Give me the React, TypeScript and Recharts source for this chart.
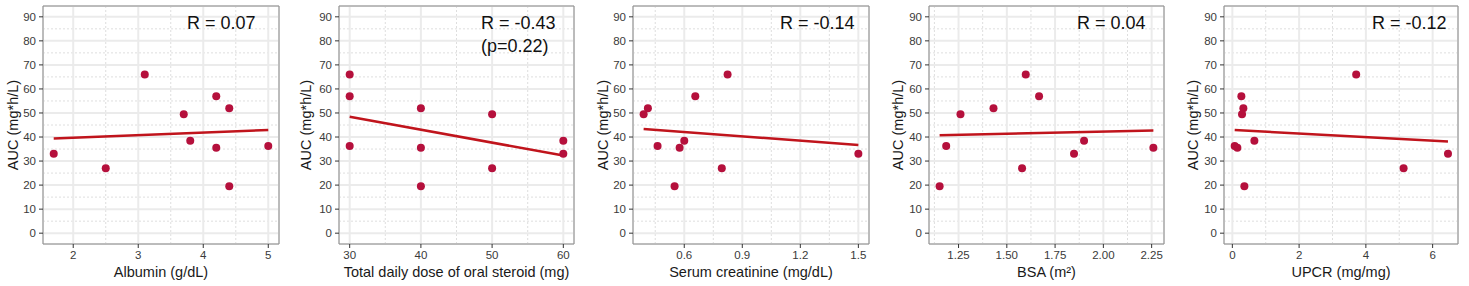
import {
  ScatterChart,
  Scatter,
  XAxis,
  YAxis,
  CartesianGrid,
  ReferenceArea
} from "recharts";

// AUC (mg*h/L) of the 10 patients, same order in every panel
const auc = [66, 57, 52, 49.5, 38.5, 36.3, 35.5, 33, 27, 19.5];

const albumin = [3.1, 4.2, 4.4, 3.7, 3.8, 5.0, 4.2, 1.7, 2.5, 4.4];
const steroidDose = [30, 30, 40, 50, 60, 30, 40, 60, 50, 40];
const creatinine = [0.824, 0.657, 0.412, 0.39, 0.6, 0.462, 0.576, 1.5, 0.794, 0.55];
const bsa = [1.598, 1.667, 1.431, 1.26, 1.9, 1.186, 2.259, 1.848, 1.579, 1.152];
const upcr = [3.71, 0.27, 0.33, 0.29, 0.66, 0.07, 0.15, 6.46, 5.13, 0.36];

// fitted line end points
const albuminFit = [{ x: 1.7, y: 39.4 }, { x: 5.0, y: 42.9 }];
const doseFit = [{ x: 30, y: 48.4 }, { x: 60, y: 32.3 }];
const creatinineFit = [{ x: 0.39, y: 43.3 }, { x: 1.5, y: 36.7 }];
const bsaFit = [{ x: 1.152, y: 40.7 }, { x: 2.259, y: 42.7 }];
const upcrFit = [{ x: 0.07, y: 42.9 }, { x: 6.46, y: 38.1 }];

const yTicks = [0, 10, 20, 30, 40, 50, 60, 70, 80, 90];
const yMinor = [5, 15, 25, 35, 45, 55, 65, 75, 85];
const yDomain = [-4.5, 94.5];

const albuminTicks = [2, 3, 4, 5];
const albuminMinor = [2.5, 3.5, 4.5];
const doseTicks = [30, 40, 50, 60];
const doseMinor = [35, 45, 55];
const creatinineTicks = [0.6, 0.9, 1.2, 1.5];
const creatinineMinor = [0.45, 0.75, 1.05, 1.35];
const bsaTicks = [1.25, 1.5, 1.75, 2.0, 2.25];
const bsaMinor = [1.125, 1.375, 1.625, 1.875, 2.125];
const upcrTicks = [0, 2, 4, 6];
const upcrMinor = [1, 3, 5];

const annotations = [
  ["R = 0.07"],
  ["R = -0.43", "(p=0.22)"],
  ["R = -0.14"],
  ["R = 0.04"],
  ["R = -0.12"]
];

const toPoints = (xs: number[]) => xs.map((x, i) => ({ x, y: auc[i] }));

const panels = [
  {
    xLabel: "Albumin (g/dL)",
    points: toPoints(albumin),
    fit: albuminFit,
    ticks: albuminTicks,
    minor: albuminMinor,
    domain: [1.535, 5.165],
    fmt: (v: number) => String(v),
    plotLeft: 43,
    plotWidth: 236,
    yGap: 30,
    noteLeft: 187
  },
  {
    xLabel: "Total daily dose of oral steroid (mg)",
    points: toPoints(steroidDose),
    fit: doseFit,
    ticks: doseTicks,
    minor: doseMinor,
    domain: [28.5, 61.5],
    fmt: (v: number) => String(v),
    plotLeft: 339,
    plotWidth: 235,
    yGap: 33,
    noteLeft: 481
  },
  {
    xLabel: "Serum creatinine (mg/dL)",
    points: toPoints(creatinine),
    fit: creatinineFit,
    ticks: creatinineTicks,
    minor: creatinineMinor,
    domain: [0.335, 1.555],
    fmt: (v: number) => v.toFixed(1),
    plotLeft: 633,
    plotWidth: 236,
    yGap: 30,
    noteLeft: 780
  },
  {
    xLabel: "BSA (m²)",
    points: toPoints(bsa),
    fit: bsaFit,
    ticks: bsaTicks,
    minor: bsaMinor,
    domain: [1.097, 2.314],
    fmt: (v: number) => v.toFixed(2),
    plotLeft: 929,
    plotWidth: 235,
    yGap: 31,
    noteLeft: 1077
  },
  {
    xLabel: "UPCR (mg/mg)",
    points: toPoints(upcr),
    fit: upcrFit,
    ticks: upcrTicks,
    minor: upcrMinor,
    domain: [-0.25, 6.76],
    fmt: (v: number) => String(v),
    plotLeft: 1224,
    plotWidth: 234,
    yGap: 31,
    noteLeft: 1372
  }
];

const FONT = "'Liberation Sans', Arial, sans-serif";
const Y_AXIS_W = 43;
const RIGHT = 4;
const tickStyle = { fontSize: 11.5, fill: "#3a3a3a", fontFamily: FONT };

export default function App() {
  return (
    <div style={pageStyle}>
      {panels.map((p, i) => (
        <div
          key={i}
          style={{ position: "absolute", left: p.plotLeft - Y_AXIS_W, top: 0 }}
        >
          <ScatterChart
            width={Y_AXIS_W + p.plotWidth + RIGHT}
            height={286}
            margin={{ top: 6, right: RIGHT, bottom: 0, left: 0 }}
          >
            {/* minor grid */}
            <CartesianGrid
              horizontalValues={yMinor}
              verticalValues={p.minor}
              stroke="#dedede"
              strokeWidth={1}
              strokeDasharray="2 2"
            />
            {/* major grid */}
            <CartesianGrid stroke="#ebebeb" strokeWidth={2} />
            <XAxis
              type="number"
              dataKey="x"
              domain={p.domain}
              ticks={p.ticks}
              tickFormatter={p.fmt}
              allowDataOverflow
              height={42}
              tickSize={4}
              tickMargin={3}
              axisLine={false}
              tickLine={{ stroke: "#333" }}
              tick={tickStyle}
              label={{
                value: p.xLabel,
                position: "insideBottom",
                offset: 9,
                fontSize: 14.5,
                fill: "#1a1a1a",
                fontFamily: FONT
              }}
            />
            <YAxis
              type="number"
              dataKey="y"
              domain={yDomain}
              ticks={yTicks}
              allowDataOverflow
              width={Y_AXIS_W}
              tickSize={4}
              tickMargin={3}
              axisLine={false}
              tickLine={{ stroke: "#333" }}
              tick={tickStyle}
              label={{
                value: "AUC (mg*h/L)",
                angle: -90,
                position: "insideLeft",
                offset: Y_AXIS_W - p.yGap,
                fontSize: 14.5,
                fill: "#1a1a1a",
                fontFamily: FONT,
                style: { textAnchor: "middle" }
              }}
            />
            <ReferenceArea
              x1={p.domain[0]}
              x2={p.domain[1]}
              y1={yDomain[0]}
              y2={yDomain[1]}
              fill="none"
              stroke="#8c8c8c"
              strokeWidth={1}
            />
            <Scatter
              data={p.fit}
              line={{ stroke: "#c0141c", strokeWidth: 2.5 }}
              shape={() => <g />}
              isAnimationActive={false}
            />
            <Scatter
              data={p.points}
              fill="#b5103c"
              shape={(props: any) => (
                <circle cx={props.cx} cy={props.cy} r={4} fill="#b5103c" />
              )}
              isAnimationActive={false}
            />
          </ScatterChart>
        </div>
      ))}

      {panels.map((p, i) => (
        <div key={"n" + i} style={{ ...noteStyle, left: p.noteLeft }}>
          {annotations[i].map((line, j) => (
            <div key={j}>{line}</div>
          ))}
        </div>
      ))}
    </div>
  );
}

const pageStyle = {
  position: "absolute" as const,
  left: 0,
  top: 0,
  width: 1469,
  height: 286,
  background: "#fff",
  fontFamily: FONT
};

const noteStyle = {
  position: "absolute" as const,
  top: 12,
  fontSize: 18,
  lineHeight: "23px",
  color: "#111",
  whiteSpace: "nowrap" as const
};
